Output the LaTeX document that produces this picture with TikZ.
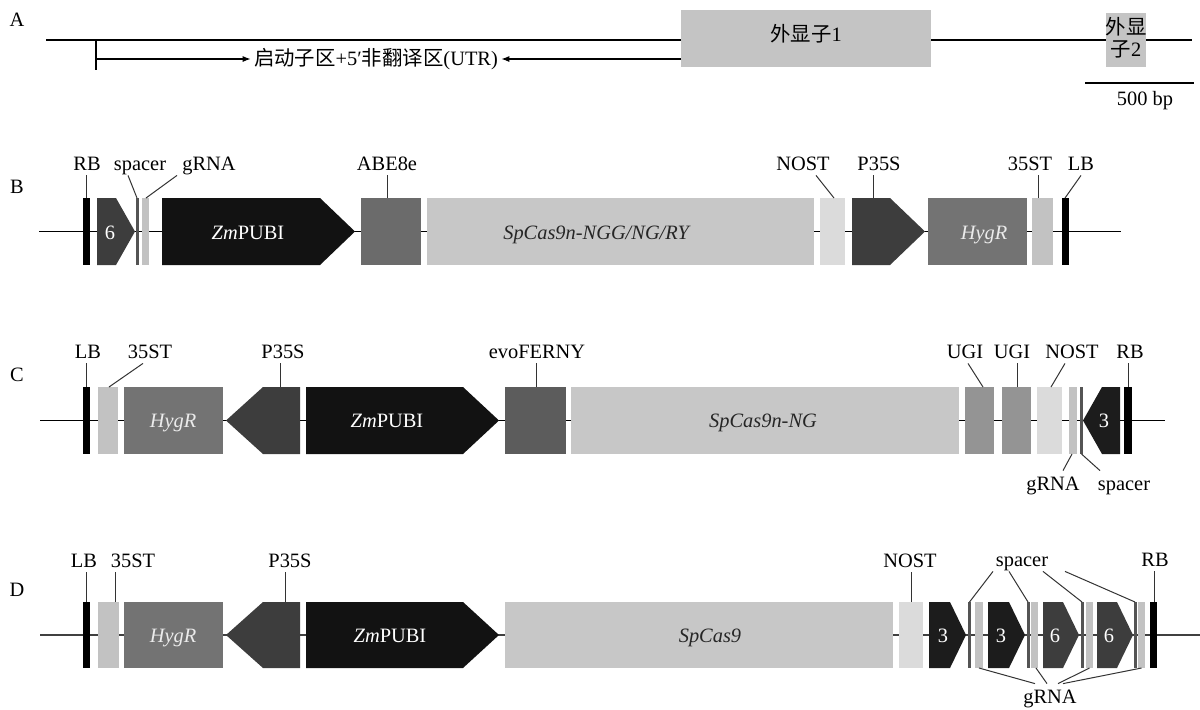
\documentclass[tikz,border=0pt]{standalone}
\usepackage{fontspec}
\setmainfont{Liberation Serif}
\newfontfamily\cjk{Noto Sans CJK SC}
\usetikzlibrary{arrows.meta}
\definecolor{ubi}{gray}{0.07}
\definecolor{pthree}{gray}{0.11}
\definecolor{psix}{gray}{0.24}
\definecolor{abe}{gray}{0.42}
\definecolor{evo}{gray}{0.36}
\definecolor{hyg}{gray}{0.45}
\definecolor{ugi}{gray}{0.58}
\definecolor{cas}{gray}{0.78}
\definecolor{term}{gray}{0.76}
\definecolor{nos}{gray}{0.86}
\definecolor{spc}{gray}{0.33}
\definecolor{exon}{gray}{0.77}

\begin{document}
\begin{tikzpicture}[x=.5pt,y=-.5pt,font=\fontsize{10.2}{12}\selectfont,
 lbl/.style={anchor=base,inner xsep=0pt,inner ysep=2.5pt,text height=7pt,text depth=0pt},
 intxt/.style={anchor=base,inner sep=0pt,text=white},
 lead/.style={draw=black!80,line width=.5pt},
 bb/.style={line width=.6pt}]
\useasboundingbox (0,0) rectangle (1200,709);

% A
\node[lbl] (pA) at (17,26) {A};
\draw[bb] (46,40) -- (681,40) (931,40) -- (1192,40);
\fill[exon] (681,10) rectangle (931,67);
\fill[exon] (1106,13) rectangle (1146,67);
\node[inner sep=0pt] (ex1) at (806,34) {{\cjk 外显子}1};
\node[inner sep=0pt,align=center,font=\fontsize{10.2}{11}\selectfont] (ex2) at (1126,38) {{\cjk 外显}\\{\cjk 子}2};
\draw[bb] (96,40) -- (96,70);
\coordinate (tss) at (96,59); \coordinate (ex1w) at (681,59);
\node[inner xsep=1.5pt] (utr) at (376,59) {{\cjk 启动子区}+5′{\cjk 非翻译区}(UTR)};
\draw[bb,-{Latex[length=4pt,width=3pt]}] (tss) -- (utr);
\draw[bb,-{Latex[length=4pt,width=3pt]}] (ex1w) -- (utr);
\draw[bb] (1085,83) -- (1194,83);
\node[lbl] (sbar) at (1145,105) {500 bp};

% B
\node[lbl] (pB) at (17,193) {B};
\draw[bb] (39,231.5) -- (1121,231.5);
\fill (83,198) rectangle (90,265);
\fill[psix] (97,198) -- (116,198) -- (135,231.5) -- (116,265) -- (97,265) -- cycle;
\fill[spc] (136,198) rectangle (138.5,265);
\fill[term] (142,198) rectangle (149,265);
\fill[ubi] (162,198) -- (320,198) -- (355,231.5) -- (320,265) -- (162,265) -- cycle;
\fill[abe] (361,198) rectangle (421,265);
\fill[cas] (427,198) rectangle (814,265);
\fill[nos] (820,198) rectangle (845,265);
\fill[psix] (852,198) -- (890,198) -- (925,231.5) -- (890,265) -- (852,265) -- cycle;
\fill[hyg] (928,198) rectangle (1027,265);
\fill[term] (1032,198) rectangle (1053,265);
\fill (1062,198) rectangle (1069,265);
\node[intxt] (b6) at (110,239) {6};
\node[intxt] (bubi) at (248,239) {\textit{Zm}PUBI};
\node[intxt,text=black!85] (bcas) at (597,239) {\textit{SpCas9n-NGG/NG/RY}};
\node[intxt,text=white!92!black] (bhyg) at (984,239) {\textit{HygR}};
\node[lbl] (bRB) at (87,170) {RB};
\node[lbl] (bsp) at (140,170) {spacer};
\node[lbl] (bgR) at (209,170) {gRNA};
\node[lbl] (bABE) at (387,170) {ABE8e};
\node[lbl] (bNOS) at (803,170) {NOST};
\node[lbl] (bP) at (879,170) {P35S};
\node[lbl] (bST) at (1030,170) {35ST};
\node[lbl] (bLB) at (1081,170) {LB};
\coordinate (bRBt) at (86.5,198); \coordinate (bspt) at (137,198); \coordinate (bgRt) at (146,198);
\coordinate (bABEt) at (387,198); \coordinate (bNOSt) at (834,198); \coordinate (bPt) at (873,198);
\coordinate (bSTt) at (1038,198); \coordinate (bLBt) at (1065,198);
\draw[lead] (bRBt |- bRB.south) -- (bRBt);
\draw[lead] ([xshift=-6pt]bsp.south) -- (bspt);
\draw[lead] ([xshift=-16pt]bgR.south) -- (bgRt);
\draw[lead] (bABEt |- bABE.south) -- (bABEt);
\draw[lead] ([xshift=6.5pt]bNOS.south) -- (bNOSt);
\draw[lead] (bPt |- bP.south) -- (bPt);
\draw[lead] (bSTt |- bST.south) -- (bSTt);
\draw[lead] (bLB.south) -- (bLBt);

% C
\node[lbl] (pC) at (17,381) {C};
\draw[bb] (40,420.5) -- (1165,420.5);
\fill (83,387) rectangle (90,454);
\fill[term] (98,387) rectangle (118,454);
\fill[hyg] (124,387) rectangle (223,454);
\fill[psix] (300,387) -- (263,387) -- (226,420.5) -- (263,454) -- (300,454) -- cycle;
\fill[ubi] (306,387) -- (463,387) -- (499,420.5) -- (463,454) -- (306,454) -- cycle;
\fill[evo] (505,387) rectangle (566,454);
\fill[cas] (571,387) rectangle (959,454);
\fill[ugi] (965,387) rectangle (994,454);
\fill[ugi] (1002,387) rectangle (1031,454);
\fill[nos] (1037,387) rectangle (1062,454);
\fill[term] (1069,387) rectangle (1077,454);
\fill[spc] (1080,387) rectangle (1082.5,454);
\fill[pthree] (1120,387) -- (1102,387) -- (1083,420.5) -- (1102,454) -- (1120,454) -- cycle;
\fill (1124,387) rectangle (1132,454);
\node[intxt,text=white!92!black] (chyg) at (173,427) {\textit{HygR}};
\node[intxt] (cubi) at (387,427) {\textit{Zm}PUBI};
\node[intxt,text=black!85] (ccas) at (763,427) {\textit{SpCas9n-NG}};
\node[intxt] (c3) at (1104,427) {3};
\node[lbl] (cLB) at (88,358) {LB};
\node[lbl] (cST) at (150,358) {35ST};
\node[lbl] (cP) at (283,358) {P35S};
\node[lbl] (cEVO) at (537,358) {evoFERNY};
\node[lbl] (cU1) at (965,358) {UGI};
\node[lbl] (cU2) at (1012,358) {UGI};
\node[lbl] (cNOS) at (1072,358) {NOST};
\node[lbl] (cRB) at (1130,358) {RB};
\node[lbl] (cgR) at (1053,490) {gRNA};
\node[lbl] (csp) at (1124,490) {spacer};
\coordinate (cLBt) at (86.5,387); \coordinate (cSTt) at (109,387); \coordinate (cPt) at (280,387);
\coordinate (cEVOt) at (536,387); \coordinate (cU1t) at (983,387); \coordinate (cU2t) at (1017,387);
\coordinate (cNOSt) at (1051,387); \coordinate (cRBt) at (1128,387);
\coordinate (cgRb) at (1072,454); \coordinate (cspb) at (1081.5,454);
\draw[lead] (cLBt |- cLB.south) -- (cLBt);
\draw[lead] ([xshift=-3.5pt]cST.south) -- (cSTt);
\draw[lead] (cPt |- cP.south) -- (cPt);
\draw[lead] (cEVOt |- cEVO.south) -- (cEVOt);
\draw[lead] ([xshift=1.5pt]cU1.south) -- (cU1t);
\draw[lead] (cU2t |- cU2.south) -- (cU2t);
\draw[lead] ([xshift=-3.5pt]cNOS.south) -- (cNOSt);
\draw[lead] (cRBt |- cRB.south) -- (cRBt);
\draw[lead] (cgRb) -- ([xshift=5pt]cgR.north);
\draw[lead] (cspb) -- ([xshift=-12pt]csp.north);

% D
\node[lbl] (pD) at (17,596) {D};
\draw[bb,black!75] (40,635) -- (1200,635);
\fill (83,602) rectangle (90,668);
\fill[term] (98,602) rectangle (119,668);
\fill[hyg] (124,602) rectangle (223,668);
\fill[psix] (300,602) -- (263,602) -- (226,635) -- (263,668) -- (300,668) -- cycle;
\fill[ubi] (306,602) -- (463,602) -- (499,635) -- (463,668) -- (306,668) -- cycle;
\fill[cas] (505,602) rectangle (893,668);
\fill[nos] (899,602) rectangle (923,668);
\fill[pthree] (929,602) -- (950,602) -- (966,635) -- (950,668) -- (929,668) -- cycle;
\fill[spc] (968,602) rectangle (971,668);
\fill[term] (975,602) rectangle (983,668);
\fill[pthree] (988,602) -- (1009,602) -- (1025,635) -- (1009,668) -- (988,668) -- cycle;
\fill[spc] (1027,602) rectangle (1029.5,668);
\fill[term] (1031,602) rectangle (1038,668);
\fill[psix] (1043,602) -- (1063,602) -- (1079,635) -- (1063,668) -- (1043,668) -- cycle;
\fill[spc] (1081,602) rectangle (1083.5,668);
\fill[term] (1086,602) rectangle (1093,668);
\fill[psix] (1097,602) -- (1117,602) -- (1133,635) -- (1117,668) -- (1097,668) -- cycle;
\fill[spc] (1134,602) rectangle (1136.5,668);
\fill[term] (1138,602) rectangle (1145,668);
\fill (1150,602) rectangle (1157,668);
\node[intxt,text=white!92!black] (dhyg) at (173,642) {\textit{HygR}};
\node[intxt] (dubi) at (390,642) {\textit{Zm}PUBI};
\node[intxt,text=black!85] (dcas) at (710,642) {\textit{SpCas9}};
\node[intxt] (d3a) at (943,642) {3};
\node[intxt] (d3b) at (1001,642) {3};
\node[intxt] (d6a) at (1055,642) {6};
\node[intxt] (d6b) at (1109,642) {6};
\node[lbl] (dLB) at (84,567) {LB};
\node[lbl] (dST) at (133,567) {35ST};
\node[lbl] (dP) at (290,567) {P35S};
\node[lbl] (dNOS) at (910,567) {NOST};
\node[lbl] (dsp) at (1022,566) {spacer};
\node[lbl] (dRB) at (1155,566) {RB};
\node[lbl] (dgR) at (1050,703) {gRNA};
\coordinate (dLBt) at (86.5,602); \coordinate (dSTt) at (115,602); \coordinate (dPt) at (285,602);
\coordinate (dNOSt) at (911,602); \coordinate (dRBt) at (1154,602);
\coordinate (dsp1) at (969.5,602); \coordinate (dsp2) at (1028,602);
\coordinate (dsp3) at (1082,602); \coordinate (dsp4) at (1135,602);
\coordinate (dgR1) at (979,668); \coordinate (dgR2) at (1036,668);
\coordinate (dgR3) at (1089.5,668); \coordinate (dgR4) at (1141.5,668);
\draw[lead] (dLBt |- dLB.south) -- (dLBt);
\draw[lead] (dSTt |- dST.south) -- (dSTt);
\draw[lead] (dPt |- dP.south) -- (dPt);
\draw[lead] (dNOSt |- dNOS.south) -- (dNOSt);
\draw[lead] (dRBt |- dRB.south) -- (dRBt);
\draw[lead] ([xshift=-14.5pt]dsp.south) -- (dsp1);
\draw[lead] ([xshift=-6.5pt]dsp.south) -- (dsp2);
\draw[lead] ([xshift=10.5pt]dsp.south) -- (dsp3);
\draw[lead] ([xshift=21.5pt]dsp.south) -- (dsp4);
\draw[lead] (dgR1) -- ([xshift=-7.5pt]dgR.north);
\draw[lead] (dgR2) -- ([xshift=-1.5pt]dgR.north);
\draw[lead] (dgR3) -- ([xshift=4pt]dgR.north);
\draw[lead] (dgR4) -- ([xshift=6.5pt]dgR.north);
\end{tikzpicture}
\end{document}
